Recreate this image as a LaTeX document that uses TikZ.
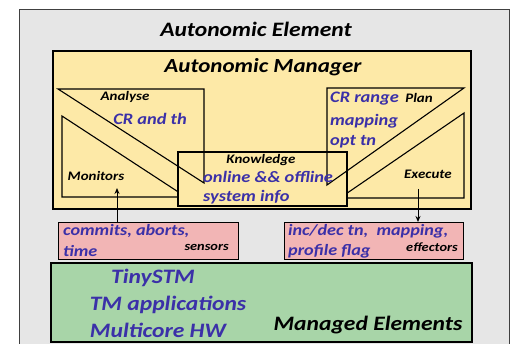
\documentclass[tikz,border=0pt]{standalone}
\usepackage{fontspec}
\setmainfont{Carlito}[FakeStretch=1.15]
\usetikzlibrary{arrows.meta}
\definecolor{elemgray}{HTML}{E6E6E6}
\definecolor{mgryellow}{HTML}{FDE9A7}
\definecolor{ifacepink}{HTML}{F2B5B5}
\definecolor{managedgreen}{HTML}{A8D5A8}
\definecolor{infoblue}{HTML}{3B30A8}
\tikzset{
  frame/.style={draw=black, line width=1.1pt},
  phase/.style={draw=black, line width=1.1pt, line join=miter},
  lbl/.style={inner sep=0pt, font=\bfseries\itshape\fontsize{13}{14}\selectfont, text=black},
  info/.style={inner sep=0pt, font=\bfseries\itshape\fontsize{16}{17}\selectfont, text=infoblue},
  pinfo/.style={inner sep=0pt, font=\bfseries\itshape\fontsize{15.8}{17}\selectfont, text=infoblue, anchor=west},
  tag/.style={inner sep=0pt, font=\bfseries\itshape\fontsize{12.5}{13}\selectfont, text=black, anchor=east},
  big/.style={inner sep=0pt, font=\bfseries\itshape\fontsize{20.5}{22}\selectfont},
  iface/.style={frame, fill=ifacepink, minimum height=37pt, anchor=north west, inner sep=0pt},
  flow/.style={draw=black, line width=1pt, -{Stealth[length=6pt,width=5pt]}},
}
\begin{document}
\begin{tikzpicture}[x=1pt,y=-1pt]
\useasboundingbox (0,0) rectangle (514,344);
\begin{scope}
\clip (0,0) rectangle (514,344);
% outer element
\fill[elemgray, draw=black!75, line width=0.9pt] (19,9) rectangle (509,360);
\end{scope}
\node[big] (elem) at (256,29) {Autonomic Element};

% manager
\path[frame, fill=mgryellow] (53,51) rectangle (471,209);
\node[big, font=\bfseries\itshape\fontsize{20}{22}\selectfont] (mgr) at (263,67) {Autonomic Manager};

% monitor and execute phases (their inner corners sit under the knowledge box)
\draw[phase] (62,116) -- (62,197) -- (186,197) -- cycle;
\draw[phase] (464,113) -- (464,198) -- (340,198) -- cycle;
% knowledge
\path[frame, fill=mgryellow] (178,152) rectangle (347,206);
% analyse and plan phases
\draw[phase] (58,89) -- (204,89) -- (204,183) -- cycle;
\draw[phase] (464,88) -- (327,88) -- (327,185) -- cycle;

\node[lbl] (analyse) at (125,97) {Analyse};
\node[info] (crth) at (150,119) {CR and th};
\node[lbl] (monitors) at (96,176) {Monitors};
\node[lbl] (know) at (261,160) {Knowledge};
\node[info, anchor=west] (online) at (203,177) {online \&\& offline};
\node[info, anchor=west] (sysinfo) at (203,197) {system info};
\node[info, anchor=west] (crrange) at (330,99) {CR range};
\node[lbl] (plan) at (419,98) {Plan};
\node[info, anchor=west] (mapping) at (330,121) {mapping};
\node[info, anchor=west] (opttn) at (330,142) {opt tn};
\node[lbl] (execute) at (428,174) {Execute};

% sensors and effectors
\node[iface, minimum width=180pt] (sensors) at (58,222) {};
\node[iface, minimum width=179pt] (effectors) at (284,222) {};
\node[pinfo] (commits) at (63,231) {commits, aborts,};
\node[pinfo] (time) at (63,251) {time};
\node[tag] (senslbl) at (229,247) {sensors};
\node[pinfo] (incdec) at (288,231) {inc/dec tn,\ \ mapping,};
\node[pinfo] (profile) at (288,251) {profile flag};
\node[tag] (efflbl) at (458,247) {effectors};

% managed elements
\path[frame, fill=managedgreen] (51,263) rectangle (472,342);
\node[big, text=infoblue] (tinystm) at (153,278) {TinySTM};
\node[big, text=infoblue] (tmapps) at (168,305) {TM applications};
\node[big, text=infoblue] (mchw) at (158,330) {Multicore HW};
\node[big, text=black] (managed) at (368,325) {Managed Elements};

% control flow
\coordinate (montip) at (117,188);
\coordinate (exetail) at (418,189);
\draw[flow] (sensors.north -| montip) -- (montip);
\draw[flow] (exetail) -- (effectors.north -| exetail);
\end{tikzpicture}
\end{document}
